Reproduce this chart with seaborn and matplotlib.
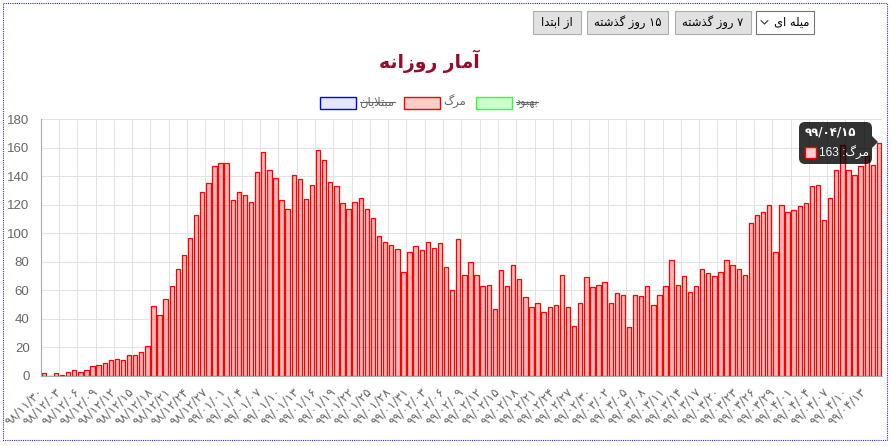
import matplotlib
matplotlib.use("Agg")
import matplotlib.pyplot as plt
from matplotlib.patches import Rectangle, FancyBboxPatch, Polygon
import pandas as pd
import seaborn as sns

# daily deaths, 98/11/30 .. 99/04/15
deaths = [
    2, 0, 2, 1, 3, 4, 3, 4, 7, 8, 9, 11, 12, 11, 15, 15, 17, 21, 49, 43,
    54, 63, 75, 85, 97, 113, 129, 135, 147, 149, 149, 123, 129, 127, 122, 143, 157, 144, 139, 123,
    117, 141, 138, 124, 134, 158, 151, 136, 133, 121, 117, 122, 125, 117, 111, 98, 94, 92, 89, 73,
    87, 91, 88, 94, 90, 93, 76, 60, 96, 71, 80, 71, 63, 64, 47, 74, 63, 78, 68, 55,
    48, 51, 45, 48, 50, 71, 48, 35, 51, 69, 62, 64, 66, 51, 58, 57, 34, 57, 56, 63,
    50, 57, 63, 81, 64, 70, 59, 63, 75, 72, 70, 73, 81, 78, 75, 71, 107, 113, 115, 120,
    87, 120, 115, 116, 119, 121, 133, 134, 109, 125, 144, 162, 144, 141, 147, 154, 148, 163,
]

start_date = (98, 11, 30)
month_days = {11: 30, 12: 29, 1: 31, 2: 31, 3: 31, 4: 31}
label_step = 3
y_ticks = [0, 20, 40, 60, 80, 100, 120, 140, 160, 180]

title = "آمار روزانه"
legend_names = ["مبتلایان", "مرگ", "بهبود"]
legend_hidden = [True, False, True]
buttons = ["از ابتدا", "۱۵ روز گذشته", "۷ روز گذشته"]
select_text = "میله ای"
tooltip_label = "مرگ"

FA = str.maketrans("0123456789", "۰۱۲۳۴۵۶۷۸۹")


def make_dates(n):
    y, m, d = start_date
    out = []
    for _ in range(n):
        out.append(f"{y:02d}/{m:02d}/{d:02d}".translate(FA))
        d += 1
        if d > month_days[m]:
            d = 1
            m += 1
            if m > 12:
                m = 1
                y += 1
    return out


# tiny persian shaper: matplotlib does no arabic joining / bidi
LA = "\ue000"
FORMS = {
    "ا": ("\uFE8D", "\uFE8E", None, None),
    "آ": ("\uFE81", "\uFE82", None, None),
    "ب": ("\uFE8F", "\uFE90", "\uFE91", "\uFE92"),
    "ت": ("\uFE95", "\uFE96", "\uFE97", "\uFE98"),
    "د": ("\uFEA9", "\uFEAA", None, None),
    "ذ": ("\uFEAB", "\uFEAC", None, None),
    "ر": ("\uFEAD", "\uFEAE", None, None),
    "ز": ("\uFEAF", "\uFEB0", None, None),
    "ش": ("\uFEB5", "\uFEB6", "\uFEB7", "\uFEB8"),
    "ل": ("\uFEDD", "\uFEDE", "\uFEDF", "\uFEE0"),
    "م": ("\uFEE1", "\uFEE2", "\uFEE3", "\uFEE4"),
    "ن": ("\uFEE5", "\uFEE6", "\uFEE7", "\uFEE8"),
    "ه": ("\uFEE9", "\uFEEA", "\uFEEB", "\uFEEC"),
    "و": ("\uFEED", "\uFEEE", None, None),
    "ی": ("\uFBFC", "\uFBFD", "\uFBFE", "\uFBFF"),
    "گ": ("\uFB92", "\uFB93", "\uFB94", "\uFB95"),
    LA: ("\uFEFB", "\uFEFC", None, None),
}


def shape_word(w):
    w = w.replace("لا", LA)
    out = []
    for i, ch in enumerate(w):
        if ch not in FORMS:
            out.append(ch)
            continue
        prev = w[i - 1] if i > 0 else None
        nxt = w[i + 1] if i + 1 < len(w) else None
        pj = prev in FORMS and FORMS[prev][2] is not None
        nj = nxt in FORMS and FORMS[ch][2] is not None
        iso, fin, ini, med = FORMS[ch]
        if pj and nj:
            out.append(med)
        elif pj:
            out.append(fin)
        elif nj:
            out.append(ini)
        else:
            out.append(iso)
    return "".join(reversed(out))


def rtl(text):
    toks = text.split(" ")
    res = []
    for t in reversed(toks):
        if any(c in FORMS for c in t):
            res.append(shape_word(t))
        else:
            res.append(t)
    return " ".join(res)


dates = make_dates(len(deaths))
df = pd.DataFrame({"date": dates, "deaths": deaths})

sns.set_theme(style="white")
plt.rcParams["font.family"] = ["Liberation Sans", "DejaVu Sans"]

W, H = 892, 446
fig = plt.figure(figsize=(W / 100, H / 100), dpi=100)
ax = fig.add_axes([40.7 / W, 70 / H, (882 - 40.7) / W, (376 - 119) / H])

sns.barplot(data=df, x="date", y="deaths", ax=ax, color="red", saturation=1,
            width=0.72, edgecolor="red", linewidth=0.9)
for p in ax.patches:
    p.set_facecolor((1, 0, 0, 0.28))

ax.set_xlim(-0.5, len(deaths) - 0.5)
ax.set_ylim(0, 180)
ax.set_yticks(y_ticks)
ax.set_yticklabels([str(v) for v in y_ticks])
tick_idx = list(range(0, len(deaths), label_step))
ax.set_xticks([i - 0.5 for i in tick_idx])
ax.set_xticklabels([dates[i] for i in tick_idx], rotation=45, ha="right",
                   va="center", rotation_mode="anchor", family=["DejaVu Sans"])
ax.set_xlabel("")
ax.set_ylabel("")
ax.set_axisbelow(True)
ax.grid(True, color="#e2e2e2", linewidth=0.75)
ax.tick_params(axis="y", length=7, color="#e2e2e2", labelsize=9.5, labelcolor="#666666", pad=1)
ax.tick_params(axis="x", length=6, color="#e2e2e2", labelsize=8.8, labelcolor="#666666", pad=4)
for s in ["top", "right"]:
    ax.spines[s].set_visible(False)
for s in ["left", "bottom"]:
    ax.spines[s].set_color("#aaaaaa")
    ax.spines[s].set_linewidth(0.8)

# overlay in pixel coordinates for the html parts
ov = fig.add_axes([0, 0, 1, 1], zorder=10)
ov.set_xlim(0, W)
ov.set_ylim(H, 0)
ov.axis("off")
ov.patch.set_alpha(0)

ov.add_patch(Rectangle((3, 3), 884, 437, fill=False, ec="#2b2bd0", lw=0.8,
                       linestyle=(0, (1, 1))))

# buttons
btn_boxes = [(533, 581), (587, 668), (675, 751)]
for (x0, x1), txt in zip(btn_boxes, buttons):
    ov.add_patch(Rectangle((x0, 11), x1 - x0, 23, fc="#e1e1e1", ec="#adadad", lw=0.8))
    ov.text((x0 + x1) / 2, 22.5, rtl(txt), ha="center", va="center", fontsize=8.3,
            color="black", family=["DejaVu Sans"])
ov.add_patch(Rectangle((756, 11), 58, 23, fc="white", ec="#767676", lw=0.8))
ov.text(810, 22.5, rtl(select_text), ha="right", va="center", fontsize=8.3,
        color="black", family=["DejaVu Sans"])
ov.plot([761, 764.5, 768], [20.5, 24, 20.5], color="#333333", lw=0.8)

# title
ov.text(429, 61, rtl(title), ha="center", va="center", fontsize=13.5,
        fontweight="bold", color="#990a2c", family=["DejaVu Sans"])

# legend: measure text first, then lay items out around the centre
leg_fc = ["#e6e6ff", "#ffcccc", "#ccffcc"]
leg_ec = ["#0000ff", "#ff0000", "#33ff33"]
fig.canvas.draw()
inv = ov.transData.inverted()
leg_texts = []
widths = []
for name in legend_names:
    t = ov.text(0, 102, rtl(name), ha="left", va="center", fontsize=8.3,
                color="#666666", family=["DejaVu Sans"])
    bb = t.get_window_extent(renderer=fig.canvas.get_renderer())
    (xa, _), (xb, _) = inv.transform([(bb.x0, bb.y0), (bb.x1, bb.y1)])
    widths.append(xb - xa)
    leg_texts.append(t)
box_w, gap_in, gap_out = 36, 4, 9
total = sum(box_w + gap_in + w for w in widths) + gap_out * (len(widths) - 1)
x = 429 - total / 2
for i, (t, w) in enumerate(zip(leg_texts, widths)):
    ov.add_patch(Rectangle((x, 97), box_w, 12, fc=leg_fc[i], ec=leg_ec[i], lw=1))
    tx = x + box_w + gap_in
    t.set_x(tx)
    if legend_hidden[i]:
        ov.plot([tx, tx + w], [102, 102], color="#666666", lw=0.8)
    x = tx + w + gap_out

# tooltip on last bar
tip_x0, tip_x1, tip_y0, tip_y1 = 799, 872, 122, 164
ov.add_patch(FancyBboxPatch((tip_x0, tip_y0), tip_x1 - tip_x0, tip_y1 - tip_y0,
                            boxstyle="round,pad=0,rounding_size=6",
                            fc=(0, 0, 0, 0.8), ec="none"))
ov.add_patch(Polygon([(tip_x1, 136), (878, 142), (tip_x1, 148)], closed=True,
                     fc=(0, 0, 0, 0.8), ec="none"))
ov.text(805, 132, dates[-1], ha="left", va="center", fontsize=8.5, fontweight="bold",
        color="white", family=["DejaVu Sans"])
ov.add_patch(Rectangle((805, 147), 11, 11, fc="#ffcccc", ec="red", lw=1))
ov.text(819, 152.5, rtl(f"{tooltip_label}: {deaths[-1]}"), ha="left", va="center",
        fontsize=8.6, color="white")

fig.savefig("out.png", dpi=100)
